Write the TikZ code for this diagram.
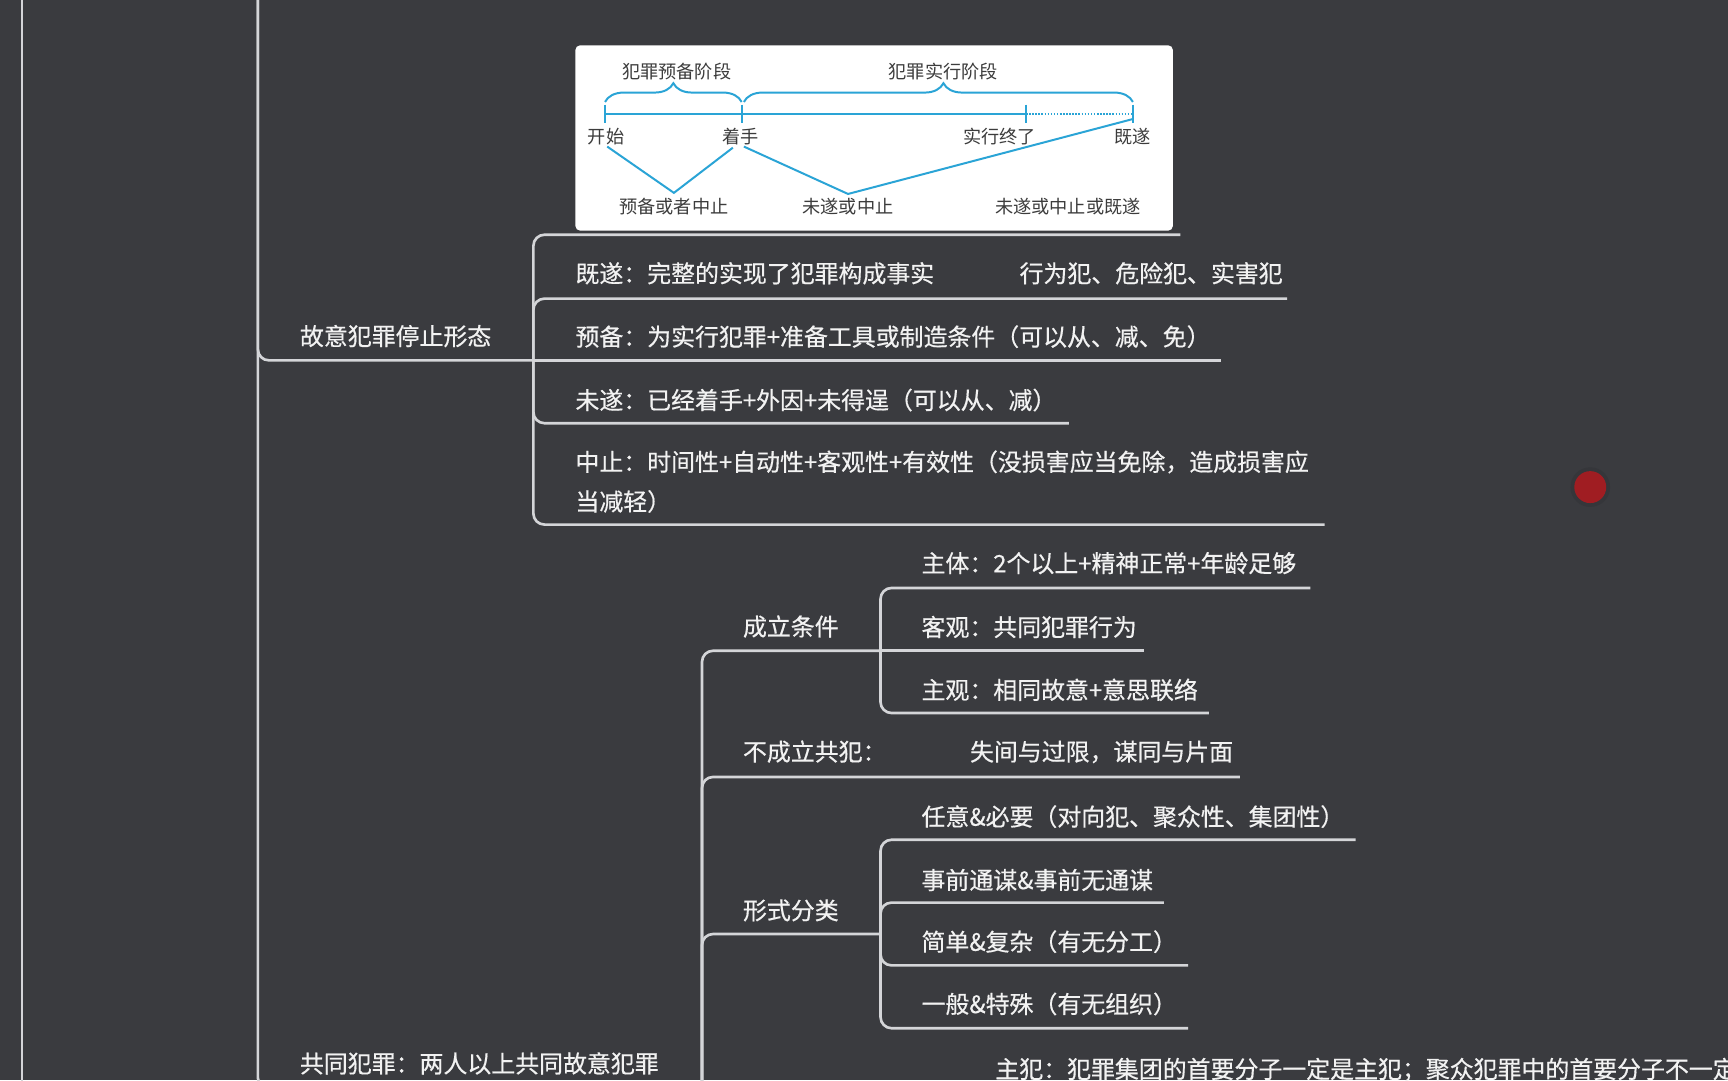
\documentclass[tikz,border=0pt]{standalone}
\usepackage{fontspec}
\newfontfamily\cjk{Noto Sans CJK SC}
\newfontfamily\cjkb[FakeBold=0.5]{Noto Sans CJK SC}
\usetikzlibrary{decorations.pathreplacing}
\definecolor{bg}{HTML}{3A3B3F}
\definecolor{ln}{HTML}{D4D5D8}
\definecolor{tx}{HTML}{F2F2F2}
\definecolor{cy}{HTML}{2AA4D6}
\definecolor{dk}{HTML}{3C3C3C}
\definecolor{dotred}{HTML}{A01D22}
\begin{document}
\begin{tikzpicture}[x=1pt,y=-1pt,
  conn/.style={draw=ln, line width=2.4pt, rounded corners=10pt},
  topic/.style={text=tx, font=\cjkb\fontsize{21.7}{26}\selectfont, anchor=west, inner sep=0pt, text height=19.1pt, text depth=2.6pt},
  pictext/.style={text=dk, font=\cjk\fontsize{16.5}{20}\selectfont, inner sep=0pt, text height=14.5pt, text depth=2pt},
  cyl/.style={draw=cy, line width=1.8pt},
  cybrace/.style={draw=cy, line width=1.8pt, decorate, decoration={brace, amplitude=17pt}},
]
\useasboundingbox (0,0) rectangle (1568,980);
\fill[bg] (0,0) rectangle (1568,980);
\clip (0,0) rectangle (1568,980);

% outer vertical lines
\coordinate (topL) at (20,-40);
\coordinate (botL) at (20,1020);
\draw[conn] (topL) -- (botL);
\coordinate (g0) at (234,-40);
\coordinate (J1) at (484,327);
\coordinate (J2) at (637,988);
\draw[conn] (g0) |- (J1);
\draw[conn] (g0) |- (J2);

% level-1 topics
\node[topic] (guyi) at (272,305) {故意犯罪停止形态};
\node[topic] (gongtong) at (272,965) {共同犯罪：两人以上共同故意犯罪};

% children of 故意犯罪停止形态
\coordinate (picE) at (1071,213);
\coordinate (jisuiE) at (1168,271);
\coordinate (yubeiE) at (1108,327);
\coordinate (weisuiE) at (970,384);
\coordinate (zhongzhiE) at (1202,476);
\draw[conn] (J1) |- (picE);
\draw[conn] (J1) |- (jisuiE);
\draw[conn] (J1) -- (yubeiE);
\draw[conn] (J1) |- (weisuiE);
\draw[conn] (J1) |- (zhongzhiE);

\node[topic] (jisui) at (522,248) {\makebox[403pt][l]{既遂：完整的实现了犯罪构成事实}行为犯、危险犯、实害犯};
\node[topic] (yubei) at (522,305.5) {预备：为实行犯罪+准备工具或制造条件（可以从、减、免）};
\node[topic] (weisui) at (522,363) {未遂：已经着手+外因+未得逞（可以从、减）};
\node[topic, anchor=base west] (zhongzhi) at (522,427.3) {\rlap{\raisebox{-36pt}{当减轻）}}中止：时间性+自动性+客观性+有效性（没损害应当免除，造成损害应};

% picture node
\node[fill=white, rounded corners=4pt, minimum width=542pt, minimum height=168pt, inner sep=0pt, anchor=north west] (picbox) at (522,41) {};
\node[pictext] (pa) at (614,65) {犯罪预备阶段};
\node[pictext] (pb) at (856,65) {犯罪实行阶段};
\draw[cybrace] (549,92.5) -- (673,92.5);
\draw[cybrace, decoration={aspect=0.513}] (675,92.5) -- (1028,92.5);
\coordinate (t1) at (549,103.5);
\coordinate (t2) at (673,103.5);
\coordinate (t3) at (931,103.5);
\coordinate (t4) at (1028,103.5);
\draw[cyl] (t1) -- (t3);
\draw[draw=cy, line width=1.3pt, dash pattern=on 1.4pt off 1.4pt] (t3) -- (t4);
\foreach \tx in {549,673,931,1028} \draw[cyl] (\tx,95) -- (\tx,112);
\node[pictext] (l1) at (550,124) {开始};
\node[pictext] (l2) at (672,124) {着手};
\node[pictext] (l3) at (907,124) {实行终了};
\node[pictext] (l4) at (1028,124) {既遂};
\coordinate (v1) at (611.5,175);
\coordinate (v2) at (769.5,176);
\draw[cyl] (551,133) -- (v1) -- (665,134);
\draw[cyl] (675,133) -- (v2) -- (1028,108);
\node[pictext] (b1) at (611.5,187.5) {预备或者中止};
\node[pictext] (b2) at (769.5,187.5) {未遂或中止};
\node[pictext] (b3) at (969,187.5) {未遂或中止或既遂};

% children of 共同犯罪
\coordinate (J3) at (799,590.5);
\coordinate (buE) at (1125,705);
\coordinate (J4) at (799,847.5);
\draw[conn] (J2) |- (J3);
\draw[conn] (J2) |- (buE);
\draw[conn] (J2) |- (J4);
\node[topic] (chengli) at (674,568.5) {成立条件};
\node[topic] (bu) at (674,682) {\makebox[206pt][l]{不成立共犯：}失间与过限，谋同与片面};
\node[topic] (xingshi) at (674,826) {形式分类};

% 成立条件 children
\coordinate (zhutiE) at (1189,533.5);
\coordinate (keguanE) at (1038,590.5);
\coordinate (zhuguanE) at (1097,647);
\draw[conn] (J3) |- (zhutiE);
\draw[conn] (J3) -- (keguanE);
\draw[conn] (J3) |- (zhuguanE);
\node[topic] (zhuti) at (836,511) {主体：2个以上+精神正常+年龄足够};
\node[topic] (keguan) at (836,569) {客观：共同犯罪行为};
\node[topic] (zhuguan) at (836,626) {主观：相同故意+意思联络};

% 形式分类 children
\coordinate (renyiE) at (1230,762);
\coordinate (shiqianE) at (1056,819);
\coordinate (jiandanE) at (1078,876);
\coordinate (yibanE) at (1078,933);
\draw[conn] (J4) |- (renyiE);
\draw[conn] (J4) |- (shiqianE);
\draw[conn] (J4) |- (jiandanE);
\draw[conn] (J4) |- (yibanE);
\node[topic] (renyi) at (836,741) {任意\&必要（对向犯、聚众性、集团性）};
\node[topic] (shiqian) at (836,798.5) {事前通谋\&事前无通谋};
\node[topic] (jiandan) at (836,854.5) {简单\&复杂（有无分工）};
\node[topic] (yiban) at (836,911) {一般\&特殊（有无组织）};

\node[topic] (zhufan) at (903,970) {主犯：犯罪集团的首要分子一定是主犯；聚众犯罪中的首要分子不一定};

% red dot
\fill[black!8!bg] (1443,442) circle (18pt);
\fill[dotred] (1443,442) circle (14.5pt);
\end{tikzpicture}
\end{document}
